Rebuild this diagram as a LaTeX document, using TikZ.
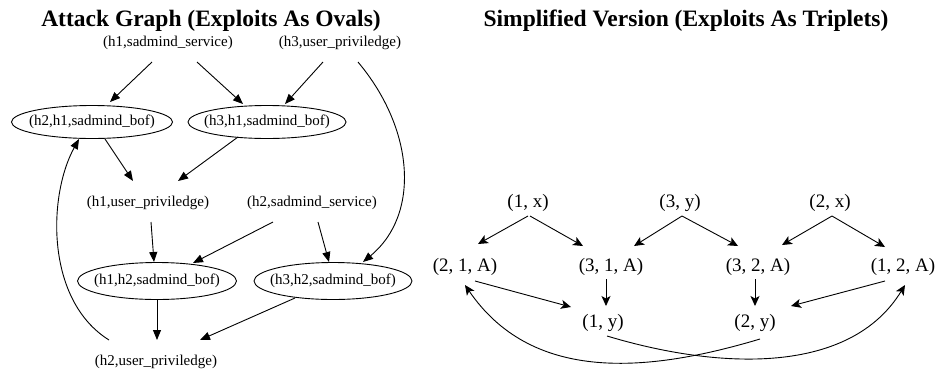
\documentclass[tikz,border=0pt]{standalone}
\usepackage{fontspec}
\setmainfont{Liberation Serif}
\usetikzlibrary{arrows.meta,shapes.geometric}
\begin{document}
\begin{tikzpicture}[x=1pt,y=-1pt,
  lbl/.style={font=\fontsize{15}{18}\selectfont, inner sep=0pt},
  ell/.style={draw, ellipse, line width=0.9pt, inner sep=0pt, font=\fontsize{15}{18}\selectfont},
  tri/.style={font=\fontsize{19}{22}\selectfont, inner sep=0pt},
  ttl/.style={font=\bfseries\fontsize{23.5}{28}\selectfont, inner sep=0pt, anchor=base},
  arrL/.style={line width=0.9pt, -{Triangle[length=10pt,width=8pt]}},
  arrR/.style={line width=0.9pt, -{Stealth[length=10pt,width=9pt,inset=2.5pt]}}
]
\path[use as bounding box] (0,0) rectangle (937,373);

% titles
\node[ttl] (t1) at (211,26) {Attack Graph (Exploits As Ovals)};
\node[ttl] (t2) at (686,26) {Simplified Version (Exploits As Triplets)};

% left graph nodes
\node[lbl] (h1s) at (168,43) {(h1,sadmind\_service)};
\node[lbl] (h3u) at (340,43) {(h3,user\_priviledge)};
\node[ell, minimum width=161pt, minimum height=33pt] (h21) at (92,122) {\makebox[0pt]{(h2,h1,sadmind\_bof)}};
\node[ell, minimum width=158pt, minimum height=33pt] (h31) at (267,122) {\makebox[0pt]{(h3,h1,sadmind\_bof)}};
\node[lbl] (h1u) at (148,203) {(h1,user\_priviledge)};
\node[lbl] (h2s) at (312,203) {(h2,sadmind\_service)};
\node[ell, minimum width=159pt, minimum height=37pt] (h12) at (157,281) {\makebox[0pt]{(h1,h2,sadmind\_bof)}};
\node[ell, minimum width=158pt, minimum height=37pt] (h32) at (333,281) {\makebox[0pt]{(h3,h2,sadmind\_bof)}};
\node[lbl] (h2u) at (156,362) {(h2,user\_priviledge)};

% left graph edges
\draw[arrL] ([shift={(-16,19)}]h1s.center) -- ([shift={(18,-20)}]h21.center);
\draw[arrL] ([shift={(29,19)}]h1s.center) -- ([shift={(-24,-18)}]h31.center);
\draw[arrL] ([shift={(-17,19)}]h3u.center) -- ([shift={(18,-18)}]h31.center);
\draw[arrL] ([shift={(18,19)}]h3u.center) .. controls (415,130) and (420,215) .. ([shift={(30,-19)}]h32.center);
\draw[arrL] ([shift={(13,17)}]h21.center) -- ([shift={(-15,-22)}]h1u.center);
\draw[arrL] ([shift={(-29,15)}]h31.center) -- ([shift={(30,-22)}]h1u.center);
\draw[arrL] ([shift={(3,19)}]h1u.center) -- ([shift={(-3,-19)}]h12.center);
\draw[arrL] ([shift={(-39,19)}]h2s.center) -- ([shift={(36,-18)}]h12.center);
\draw[arrL] ([shift={(6,19)}]h2s.center) -- ([shift={(-4,-19)}]h32.center);
\draw[arrL] ([shift={(0,19)}]h12.center) -- ([shift={(1,-22)}]h2u.center);
\draw[arrL] ([shift={(-38,17)}]h32.center) -- ([shift={(44,-22)}]h2u.center);
\draw[arrL] ([shift={(-47,-22)}]h2u.center) .. controls (45,300) and (48,195) .. ([shift={(-13,17)}]h21.center);

% right graph nodes
\node[tri] (n1x) at (528,203) {(1, x)};
\node[tri] (n3y) at (680,203) {(3, y)};
\node[tri] (n2x) at (830,203) {(2, x)};
\node[tri] (a21) at (465,267) {(2, 1, A)};
\node[tri] (a31) at (611,267) {(3, 1, A)};
\node[tri] (a32) at (758,267) {(3, 2, A)};
\node[tri] (a12) at (903,267) {(1, 2, A)};
\node[tri] (y1) at (603,323) {(1, y)};
\node[tri] (y2) at (755,323) {(2, y)};

% right graph edges
\draw[arrR] ([shift={(0,13)}]n1x.center) -- ([shift={(13,-23)}]a21.center);
\draw[arrR] ([shift={(2,13)}]n1x.center) -- ([shift={(-28,-21)}]a31.center);
\draw[arrR] ([shift={(2,13)}]n3y.center) -- ([shift={(23,-21)}]a31.center);
\draw[arrR] ([shift={(2,13)}]n3y.center) -- ([shift={(-20,-21)}]a32.center);
\draw[arrR] ([shift={(2,13)}]n2x.center) -- ([shift={(24,-22)}]a32.center);
\draw[arrR] ([shift={(2,13)}]n2x.center) -- ([shift={(-18,-20)}]a12.center);
\draw[arrR] ([shift={(10,14)}]a21.center) -- ([shift={(-32,-16)}]y1.center);
\draw[arrR] ([shift={(-5,12)}]a31.center) -- ([shift={(3,-17)}]y1.center);
\draw[arrR] ([shift={(-3,12)}]a32.center) -- ([shift={(0,-17)}]y2.center);
\draw[arrR] ([shift={(-18,14)}]a12.center) -- ([shift={(36,-17)}]y2.center);
\draw[arrR] ([shift={(4,13)}]y1.center) .. controls (720,370) and (850,375) .. ([shift={(2,18)}]a12.center);
\draw[arrR] ([shift={(5,16)}]y2.center) .. controls (640,375) and (530,380) .. ([shift={(0,18)}]a21.center);
\end{tikzpicture}
\end{document}
